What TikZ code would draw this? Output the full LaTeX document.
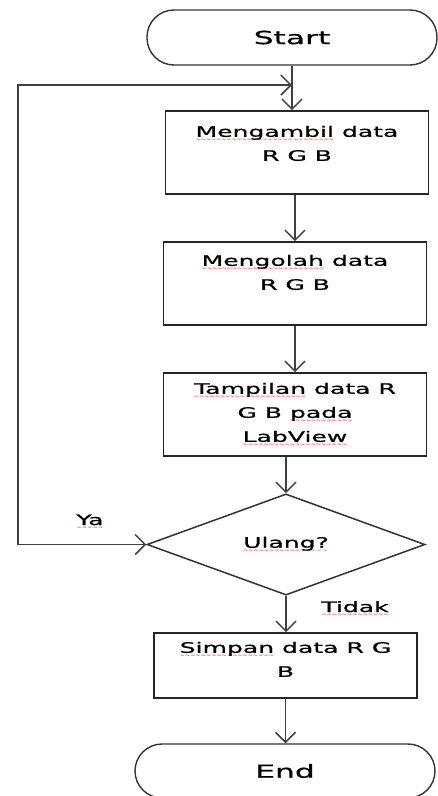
\documentclass[tikz,border=0pt]{standalone}
\usepackage{fontspec}
\newfontfamily\flowfont[FakeStretch=1.74, FakeBold=0.8]{DejaVu Sans}
\newfontfamily\wavefont{DejaVu Sans}
\usetikzlibrary{arrows.meta, positioning, shapes.geometric}

% spell-check waves under words
\newcommand{\waveunder}[2]{\setbox0\hbox{#2}\rlap{\lower4.5pt\hbox to\wd0{\xleaders\hbox{\wavefont\fontsize{6}{6}\selectfont\textcolor{#1}{\char"7E}}\hfill}}\box0\relax}
\newcommand{\spell}[1]{\waveunder{red}{#1}}
\newcommand{\gramm}[1]{\waveunder{green!60!black}{#1}}

\begin{document}
\begin{tikzpicture}[x=1pt, y=-1pt,
    proc/.style={draw=black!85, line width=1.7pt, minimum width=263pt, minimum height=83pt, inner sep=0pt},
    term/.style={draw=black!80, line width=1.4pt, rounded corners=27pt, minimum width=290pt, minimum height=55pt,
                 inner sep=0pt, font=\flowfont\fontsize{18}{20}\selectfont},
    dec/.style={diamond, draw=black!80, line width=1.5pt, minimum width=278pt, minimum height=83pt, inner sep=0pt,
                font=\flowfont\fontsize{14.4}{24}\selectfont},
    txt/.style={align=center, inner sep=0pt, font=\flowfont\fontsize{14.4}{24}\selectfont},
    flow/.style={draw=black!75, line width=1.8pt, -{Straight Barb[length=10pt, width=20pt, line width=1.5pt]}}]
    \useasboundingbox (0,0) rectangle (438,796);

    % terminals
    \node[term] (start) at (292,37.5) {Start};
    \node[term, minimum width=300pt, minimum height=54pt] (end) at (285,771) {End};

    % process boxes
    \node[proc] (ambil) at (297,152.5) {};
    \node[proc] (olah) at (295,283.5) {};
    \node[proc] (tampil) at (295,414.5) {};
    \node[proc, minimum height=65pt] (simpan) at (285.5,665.5) {};

    \node[txt, below=15.5pt of ambil.north] (ambilT) {\spell{Mengambil} data\\R G B};
    \node[txt, below=13.5pt of olah.north] (olahT) {\spell{Mengolah} data\\R G B};
    \node[txt, below=10.5pt of tampil.north] (tampilT) {\spell{Tampilan} data R\\G B \spell{pada}\\\spell{LabView}};
    \node[txt, below=9.5pt of simpan.north] (simpanT) {\spell{Simpan} data R G\\B};

    % decision
    \node[dec] (ulang) at (286,544.5) {\spell{Ulang}\gramm{?}};
    \node[txt, anchor=base] (ya) at (90,525) {\spell{Ya}};
    \node[txt, anchor=base] (tidak) at (355,612) {\spell{Tidak}};

    % loop back
    \coordinate (balik) at (18,544.5);
    \coordinate (masuk) at (292,85);

    % connectors
    \draw[flow] (start.south) -- (start.south |- ambil.north);
    \draw[flow] (ambil.south -| olah.north) -- (olah.north);
    \draw[flow] (olah.south) -- (tampil.north);
    \draw[flow] (tampil.south -| ulang.north) -- (ulang.north);
    \draw[flow] (ulang.south) -- (ulang.south |- simpan.north);
    \draw[flow] (simpan.south) -- (simpan.south |- end.north);
    \draw[flow] (balik) -- (ulang.west);
    \draw[flow] (balik) |- (masuk);
\end{tikzpicture}
\end{document}
